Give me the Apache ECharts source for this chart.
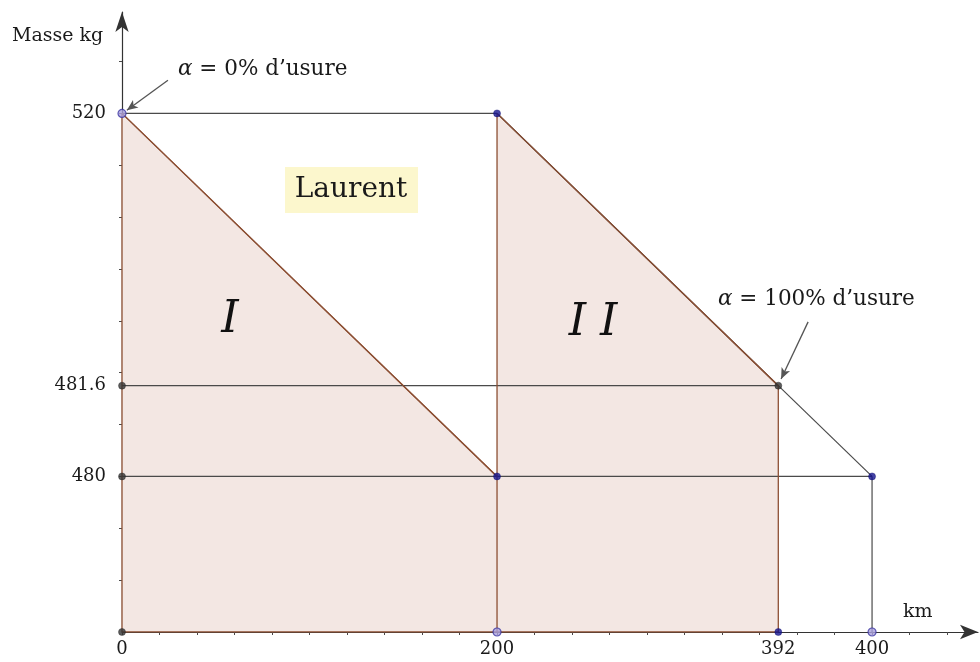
<!DOCTYPE html>
<html><head><meta charset="utf-8">
<script src="https://cdn.jsdelivr.net/npm/echarts@6/dist/echarts.min.js"></script>
<style>html,body{margin:0;padding:0;background:#fff}#c{width:980px;height:662px}</style>
</head><body><div id="c"></div>
<script>
// Tick labels (real values) and where the schematic figure places them on its axes
const kmTicks = [0, 200, 392, 400];
const kmSchematic = [0, 200, 350, 400];
const massTicks = [480, 481.6, 520];
const massSchematic = [3, 4.75, 10];

// Figure content in real units (null = on the km axis)
const shadedI = [[0, 520], [200, 480]];
const shadedII = [[200, 520], [392, 481.6]];
const brownEdges = [
  [[0, null], [0, 520]],
  [[200, null], [200, 520]],
  [[392, null], [392, 481.6]],
  [[0, null], [392, null]]
];
const greyLines = [
  [[0, 520], [200, 520]],
  [[200, 520], [400, 480]],
  [[0, 481.6], [392, 481.6]],
  [[0, 480], [400, 480]],
  [[400, 480], [400, null]]
];
const bluePoints = [[200, 520], [200, 480], [400, 480], [392, null]];
const darkPoints = [[392, 481.6], [0, 481.6], [0, 480], [0, null]];
const lightPoints = [[0, 520], [200, null], [400, null]];

function X(v) { return kmSchematic[kmTicks.indexOf(v)]; }
function Y(v) { return v === null ? 0 : massSchematic[massTicks.indexOf(v)]; }
function P(p) { return [X(p[0]), Y(p[1])]; }
function lookup(v, pos, lab) {
  for (let i = 0; i < pos.length; i++) if (Math.abs(pos[i] - v) < 1e-6) return String(lab[i]);
  return '';
}

const FONT = 'DejaVu Serif';
const BROWN = '#8c4f33';
const GREY = '#4a4a4a';
const FILL = '#f3e7e3';

const xTickVals = []; for (let v = 0; v <= 440; v += 20) xTickVals.push(v);
const yTickVals = []; for (let v = 1; v <= 11; v += 1) yTickVals.push(v);

const series = [];
[shadedI, shadedII].forEach(s => series.push({
  type: 'line', data: s.map(P), symbol: 'none', silent: true, z: 1,
  lineStyle: { color: BROWN, width: 1.3 },
  areaStyle: { color: FILL, opacity: 1, origin: 'start' }
}));
greyLines.forEach(s => series.push({
  type: 'line', data: s.map(P), symbol: 'none', silent: true, z: 2,
  lineStyle: { color: GREY, width: 1.2 }
}));
brownEdges.forEach(s => series.push({
  type: 'line', data: s.map(P), symbol: 'none', silent: true, z: 3,
  lineStyle: { color: BROWN, width: 1.3 }
}));
[shadedI, shadedII].forEach(s => series.push({
  type: 'line', data: s.map(P), symbol: 'none', silent: true, z: 3,
  lineStyle: { color: BROWN, width: 1.3 }
}));
// annotation arrows
series.push({
  type: 'line', data: [], silent: true,
  markLine: {
    silent: true, symbol: ['none', 'arrow'], symbolSize: [7, 11], label: { show: false },
    lineStyle: { color: '#555', width: 1.3, type: 'solid' },
    data: [
      [{ coord: [24.5, 10.64] }, { coord: [2.6, 10.06] }],
      [{ coord: [365.9, 5.98] }, { coord: [351.5, 4.88] }]
    ]
  }
});
series.push({ type: 'scatter', data: darkPoints.map(P), symbolSize: 7, z: 5,
  itemStyle: { color: '#333', borderColor: '#222', borderWidth: 0.5 } });
series.push({ type: 'scatter', data: bluePoints.map(P), symbolSize: 7, z: 5,
  itemStyle: { color: '#15148f', borderColor: '#0d0c70', borderWidth: 0.5 } });
series.push({ type: 'scatter', data: lightPoints.map(P), symbolSize: 8, z: 5,
  itemStyle: { color: '#a9a0dd', borderColor: '#3b34a0', borderWidth: 1.2 } });

const chart = echarts.init(document.getElementById('c'), null, { renderer: 'canvas' });
chart.setOption({
  animation: false,
  backgroundColor: '#fff',
  grid: { left: 122, right: 2, top: 12, bottom: 30, containLabel: false },
  xAxis: {
    type: 'value', min: 0, max: 456.5, interval: 20,
    splitLine: { show: false },
    axisLine: { show: true, symbol: ['none', 'arrow'], symbolSize: [11, 18], lineStyle: { color: '#333', width: 1.2 } },
    axisTick: { show: true, customValues: xTickVals, length: 3, lineStyle: { color: GREY } },
    axisLabel: { customValues: kmSchematic, formatter: v => lookup(v, kmSchematic, kmTicks),
      fontFamily: FONT, fontSize: 18, color: '#1a1a1a', margin: 8 }
  },
  yAxis: {
    type: 'value', min: 0, max: 11.955, interval: 1,
    splitLine: { show: false },
    axisLine: { show: true, symbol: ['none', 'arrow'], symbolSize: [10, 20], lineStyle: { color: '#333', width: 1.2 } },
    axisTick: { show: true, customValues: yTickVals, length: 3, lineStyle: { color: GREY } },
    axisLabel: { customValues: massSchematic, formatter: v => lookup(v, massSchematic, massTicks),
      fontFamily: FONT, fontSize: 18, color: '#1a1a1a', margin: 16 }
  },
  series: series,
  graphic: [
    { type: 'text', left: 12, top: 27, style: { text: 'Masse kg', font: '19px "DejaVu Serif"', fill: '#1a1a1a' } },
    { type: 'text', left: 903, top: 603, style: { text: 'km', font: '19px "DejaVu Serif"', fill: '#1a1a1a' } },
    { type: 'text', left: 178, top: 58, style: { text: '{i|α} = 0% d’usure', font: '21.5px "DejaVu Serif"', fill: '#1a1a1a',
        rich: { i: { fontFamily: FONT, fontStyle: 'italic', fontSize: 21.5, fill: '#1a1a1a' } } } },
    { type: 'text', left: 718, top: 288, style: { text: '{i|α} = 100% d’usure', font: '21.5px "DejaVu Serif"', fill: '#1a1a1a',
        rich: { i: { fontFamily: FONT, fontStyle: 'italic', fontSize: 21.5, fill: '#1a1a1a' } } } },
    { type: 'rect', shape: { x: 285, y: 167, width: 133, height: 46 }, style: { fill: '#fcf7cd' }, z: 10 },
    { type: 'text', x: 351, y: 190, z: 11, style: { text: 'Laurent', font: '28px "DejaVu Serif"', fill: '#1a1a1a',
        textAlign: 'center', textVerticalAlign: 'middle' } },
    { type: 'text', x: 230, y: 321, z: 11, style: { text: 'I', font: 'italic 44px "DejaVu Serif"', fill: '#111',
        textAlign: 'center', textVerticalAlign: 'middle' } },
    { type: 'text', x: 593, y: 324, z: 11, style: { text: 'I I', font: 'italic 44px "DejaVu Serif"', fill: '#111',
        textAlign: 'center', textVerticalAlign: 'middle' } }
  ]
});
</script></body></html>
